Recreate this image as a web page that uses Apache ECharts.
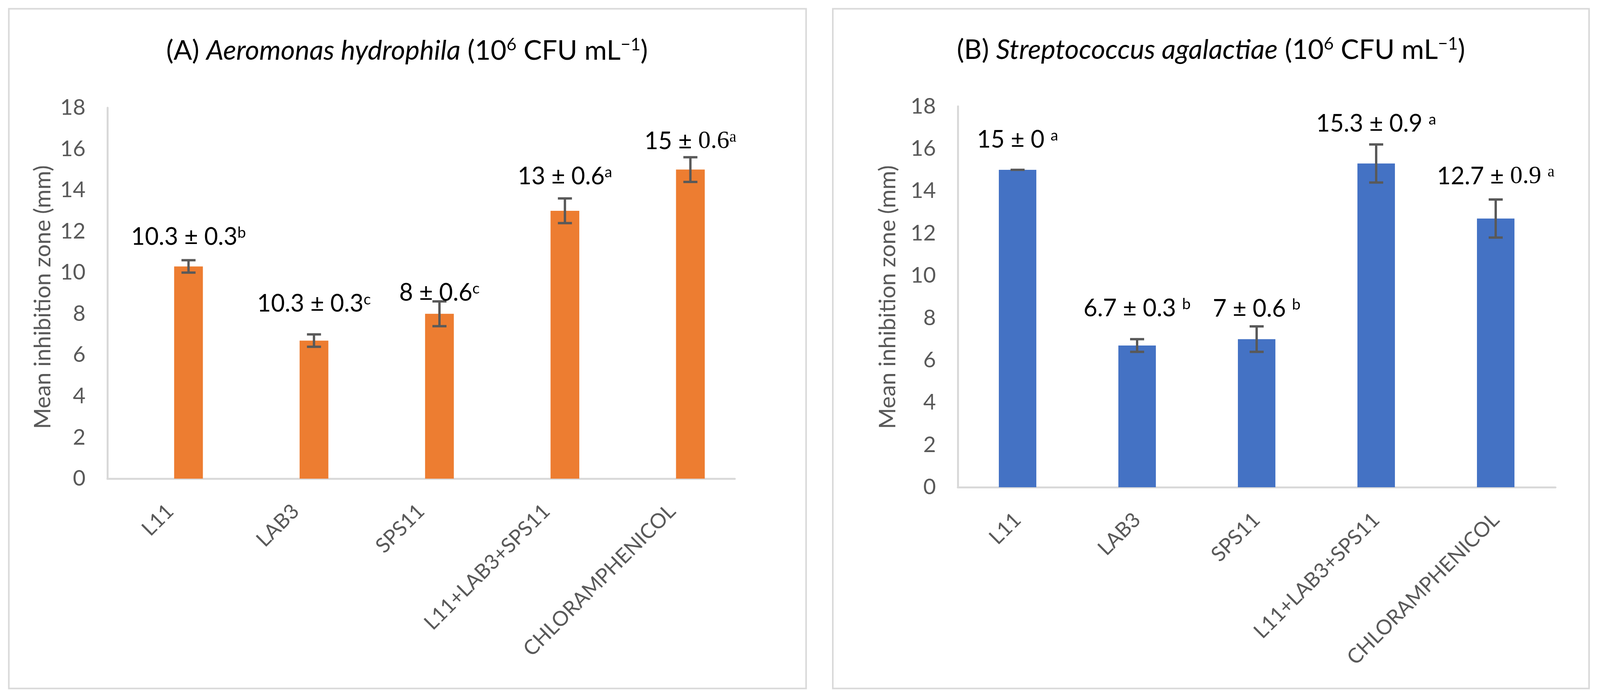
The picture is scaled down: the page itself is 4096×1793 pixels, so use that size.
<!DOCTYPE html>
<html><head><meta charset="utf-8">
<script src="https://cdn.jsdelivr.net/npm/echarts@6/dist/echarts.min.js"></script>
<style>html,body{margin:0;padding:0;background:#fff;}#c{width:4096px;height:1793px;}</style>
</head><body><div id="c"></div>
<script>
// ---------- data ----------
const categories = ['L11', 'LAB3', 'SPS11', 'L11+LAB3+SPS11', 'CHLORAMPHENICOL'];
const aValues = [10.3, 6.7, 8, 13, 15];
const aErrors = [0.3, 0.3, 0.6, 0.6, 0.6];
const aLabelText = ['10.3 ± 0.3', '10.3 ± 0.3', '8 ± 0.6', '13 ± 0.6', '15 ± 0.6'];
const aLabelLetter = ['b', 'c', 'c', 'a', 'a'];
const bValues = [15, 6.7, 7, 15.3, 12.7];
const bErrors = [0, 0.3, 0.6, 0.9, 0.9];
const bLabelText = ['15 ± 0 ', '6.7 ± 0.3 ', '7 ± 0.6 ', '15.3 ± 0.9 ', '12.7 ± 0.9 '];
const bLabelLetter = ['a', 'b', 'b', 'a', 'a'];
const yMin = 0, yMax = 18, yStep = 2;
const yAxisTitle = 'Mean inhibition zone (mm)';
const titleA = ['(A) ', 'Aeromonas hydrophila', ' (10', '6', ' CFU mL', '−1', ')'];
const titleB = ['(B) ', 'Streptococcus agalactiae', ' (10', '6', ' CFU mL', '−1', ')'];

// ---------- styles ----------
const FONT = 'Lato';
const SERIF = 'Liberation Serif';
const aLabelLift = [59, 78, 22, 56, 40];
const bLabelLift = [77, 78, 45, 53, 59];
const aSerifTail = [false, false, false, false, true];
const bSerifTail = [false, false, false, false, true];
const A_BAR_W = 73.6, A_GAP = 0.277;
const B_BAR_W = 96;

const labelRich = {
  n: {fontFamily: FONT, fontSize: 61, lineHeight: 61, color: '#404040'},
  s: {fontFamily: FONT, fontSize: 39, lineHeight: 26, color: '#404040', verticalAlign: 'top'},
  r: {fontFamily: SERIF, fontSize: 64, lineHeight: 61, color: '#404040'},
  rs: {fontFamily: SERIF, fontSize: 40, lineHeight: 26, color: '#404040', verticalAlign: 'top'}
};
function buildLabel(text, letter, serif) {
  if (serif) {
    const k = text.indexOf('± ') + 2;
    return '{n|' + text.slice(0, k) + '}{r|' + text.slice(k) + '}{rs|' + letter + '}';
  }
  return '{n|' + text + '}{s|' + letter + '}';
}
const TS = 70;
const titleRich = {
  n: {fontFamily: FONT, fontSize: TS, lineHeight: 74, color: '#595959'},
  i: {fontFamily: FONT, fontSize: TS, lineHeight: 74, color: '#595959', fontStyle: 'italic'},
  u: {fontFamily: FONT, fontSize: 44, lineHeight: 38, color: '#595959', verticalAlign: 'top'}
};
function buildTitle(p) {
  return '{n|' + p[0] + '}{i|' + p[1] + '}{n|' + p[2] + '}{u|' + p[3] + '}{n|' + p[4] + '}{u|' + p[5] + '}{n|' + p[6] + '}';
}

function errorSeries(ax, values, errors, texts, letters, lifts, serif, offset) {
  return {
    type: 'custom', xAxisIndex: ax, yAxisIndex: ax, z: 10, clip: false,
    data: values.map((v, i) => [i, v, errors[i]]),
    renderItem: function (params, api) {
      const i = api.value(0), v = api.value(1), e = api.value(2);
      const t = api.coord([i, v + e]);
      const b = api.coord([i, v - e]);
      const x = t[0] + offset;
      const cap = 18;
      const ls = {stroke: '#595959', lineWidth: 6};
      return {
        type: 'group', children: [
          {type: 'line', shape: {x1: x, y1: t[1], x2: x, y2: b[1]}, style: ls},
          {type: 'line', shape: {x1: x - cap, y1: t[1], x2: x + cap, y2: t[1]}, style: ls},
          {type: 'line', shape: {x1: x - cap, y1: b[1], x2: x + cap, y2: b[1]}, style: ls},
          {type: 'text', x: x, y: t[1] - lifts[i], style: {
            text: buildLabel(texts[i], letters[i], serif[i]), rich: labelRich,
            align: 'center', verticalAlign: 'middle'}}
        ]
      };
    }
  };
}

const axisLineStyle = {show: true, lineStyle: {color: '#d9d9d9', width: 5}};
function xAx(gi) {
  return {type: 'category', gridIndex: gi, data: categories,
    axisLine: axisLineStyle, axisTick: {show: false},
    axisLabel: {interval: 0, rotate: 45, margin: 75, color: '#595959', fontFamily: FONT, fontSize: 53}};
}
function yAx(gi) {
  return {type: 'value', gridIndex: gi, min: yMin, max: yMax, interval: yStep,
    axisLine: axisLineStyle, axisTick: {show: false}, splitLine: {show: false},
    axisLabel: {margin: 56, color: '#595959', fontFamily: FONT, fontSize: 56}};
}

const chart = echarts.init(document.getElementById('c'));
chart.setOption({
  animation: false,
  backgroundColor: '#fff',
  grid: [
    {left: 275, top: 276, width: 1606, height: 950},
    {left: 2452, top: 272.5, width: 1530, height: 975.5}
  ],
  xAxis: [xAx(0), xAx(1)],
  yAxis: [yAx(0), yAx(1)],
  series: [
    {type: 'bar', xAxisIndex: 0, yAxisIndex: 0, data: categories.map(() => null), barWidth: A_BAR_W, barGap: (A_GAP * 100) + '%'},
    {type: 'bar', xAxisIndex: 0, yAxisIndex: 0, data: aValues, barWidth: A_BAR_W, barGap: (A_GAP * 100) + '%', itemStyle: {color: '#ED7D31'}},
    errorSeries(0, aValues, aErrors, aLabelText, aLabelLetter, aLabelLift, aSerifTail, A_BAR_W * (1 + A_GAP) / 2),
    {type: 'bar', xAxisIndex: 1, yAxisIndex: 1, data: bValues, barWidth: B_BAR_W, itemStyle: {color: '#4472C4'}},
    errorSeries(1, bValues, bErrors, bLabelText, bLabelLetter, bLabelLift, bSerifTail, 0)
  ],
  graphic: [
    {type: 'rect', shape: {x: 22.6, y: 22.6, width: 2041, height: 1741}, style: {fill: null, stroke: '#d9d9d9', lineWidth: 4}},
    {type: 'rect', shape: {x: 2132, y: 22.6, width: 1936, height: 1741}, style: {fill: null, stroke: '#d9d9d9', lineWidth: 4}},
    {type: 'text', x: 1042, y: 130, style: {text: buildTitle(titleA), rich: titleRich, align: 'center', verticalAlign: 'middle'}},
    {type: 'text', x: 3100, y: 128, style: {text: buildTitle(titleB), rich: titleRich, align: 'center', verticalAlign: 'middle'}},
    {type: 'text', x: 110, y: 761, rotation: Math.PI / 2, style: {text: yAxisTitle, fontFamily: FONT, fontSize: 58, fill: '#595959', align: 'center', verticalAlign: 'middle'}},
    {type: 'text', x: 2273, y: 761, rotation: Math.PI / 2, style: {text: yAxisTitle, fontFamily: FONT, fontSize: 58, fill: '#595959', align: 'center', verticalAlign: 'middle'}}
  ]
});
</script></body></html>
